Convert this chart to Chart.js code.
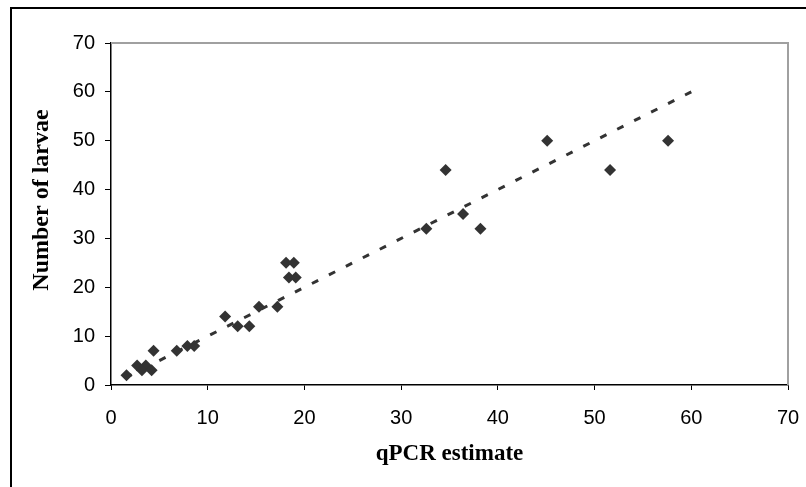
<!DOCTYPE html>
<html>
<head>
<meta charset="utf-8">
<script src="https://cdn.jsdelivr.net/npm/chart.js@4.4.1/dist/chart.umd.min.js"></script>
<style>
    html, body { margin: 0; padding: 0; background: #fff; overflow: hidden; }
    #wrap { position: relative; width: 806px; height: 487px; }
</style>
</head>
<body>
<div id="wrap"><canvas id="chart"></canvas></div>
<script>
// qPCR estimate vs counted larvae
const qpcrEstimate = [1.6, 2.7, 3.6, 3.2, 4.2, 4.4, 6.8, 7.9, 8.6, 11.8, 13.1, 14.3, 15.3, 17.2,
    18.1, 18.9, 18.4, 19.1, 32.6, 34.6, 36.4, 38.2, 45.1, 51.6, 57.6];
const larvaeCount = [2, 4, 4, 3, 3, 7, 7, 8, 8, 14, 12, 12, 16, 16,
    25, 25, 22, 22, 32, 44, 35, 32, 50, 44, 50];

// 1:1 line (dotted)
const lineX = [1.6, 60];
const lineY = [1.6, 60];

const axisTicks = [0, 10, 20, 30, 40, 50, 60, 70];

const xTitle = 'qPCR estimate';
const yTitle = 'Number of larvae';

const toPoints = (xs, ys) => xs.map((x, i) => ({ x: x, y: ys[i] }));

// frame round the whole picture, grey top/right edge of the plot area, y title
const framePlugin = {
    id: 'frame',
    afterDraw(chart) {
        const { ctx, chartArea } = chart;
        ctx.save();
        ctx.strokeStyle = '#a0a0a0';
        ctx.lineWidth = 2;
        ctx.beginPath();
        ctx.moveTo(chartArea.left, chartArea.top);
        ctx.lineTo(chartArea.right, chartArea.top);
        ctx.lineTo(chartArea.right, chartArea.bottom);
        ctx.stroke();

        ctx.strokeStyle = '#000';
        ctx.lineWidth = 2;
        ctx.beginPath();
        ctx.moveTo(11, 487);
        ctx.lineTo(11, 8);
        ctx.lineTo(806, 8);
        ctx.stroke();

        // y axis title sits a bit above the middle of the plot in the original
        ctx.translate(42, 200);
        ctx.rotate(-Math.PI / 2);
        ctx.fillStyle = '#000';
        ctx.font = 'bold 24px "Liberation Serif", "Times New Roman", serif';
        ctx.textAlign = 'center';
        ctx.textBaseline = 'middle';
        ctx.fillText(yTitle, 0, 0);
        ctx.restore();
    }
};

const ctx = document.getElementById('chart').getContext('2d');

new Chart(ctx, {
    type: 'scatter',
    data: {
        datasets: [{
            label: 'Samples',
            data: toPoints(qpcrEstimate, larvaeCount),
            pointStyle: 'rectRot',
            pointRadius: 6,
            backgroundColor: '#333333',
            borderColor: '#333333',
            borderWidth: 0,
            order: 1
        }, {
            label: '1:1',
            type: 'line',
            data: toPoints(lineX, lineY),
            borderColor: '#333333',
            borderWidth: 3,
            borderDash: [7, 12],
            borderDashOffset: 1.2,
            pointRadius: 0,
            fill: false,
            order: 2
        }]
    },
    options: {
        responsive: true,
        maintainAspectRatio: false,
        animation: false,
        layout: {
            padding: { left: 0, top: 43, right: 18, bottom: 0 }
        },
        scales: {
            x: {
                type: 'linear',
                min: 0,
                max: 70,
                afterFit: (scale) => {
                    scale.height = 102;
                    scale.paddingLeft = 0;
                    scale.paddingRight = 0;
                },
                afterBuildTicks: (scale) => { scale.ticks = axisTicks.map(v => ({ value: v })); },
                grid: {
                    drawOnChartArea: false,
                    drawTicks: true,
                    tickLength: 5,
                    color: '#000'
                },
                border: { display: true, color: '#000', width: 1.5 },
                ticks: {
                    padding: 16,
                    color: '#000',
                    font: { family: 'Liberation Sans, Arial', size: 20 }
                },
                title: {
                    display: true,
                    text: xTitle,
                    color: '#000',
                    padding: { top: 0, bottom: 19 },
                    font: { family: 'Liberation Serif, Times New Roman', size: 23, weight: 'bold' }
                }
            },
            y: {
                type: 'linear',
                min: 0,
                max: 70,
                afterFit: (scale) => {
                    scale.width = 111;
                    scale.paddingTop = 0;
                    scale.paddingBottom = 0;
                },
                afterBuildTicks: (scale) => { scale.ticks = axisTicks.map(v => ({ value: v })); },
                grid: {
                    drawOnChartArea: false,
                    drawTicks: true,
                    tickLength: 6,
                    color: '#000'
                },
                border: { display: true, color: '#000', width: 1.5 },
                ticks: {
                    padding: 10,
                    color: '#000',
                    font: { family: 'Liberation Sans, Arial', size: 20 }
                },
                title: { display: false }
            }
        },
        plugins: {
            legend: { display: false },
            tooltip: { enabled: false }
        }
    },
    plugins: [framePlugin]
});
</script>
</body>
</html>
